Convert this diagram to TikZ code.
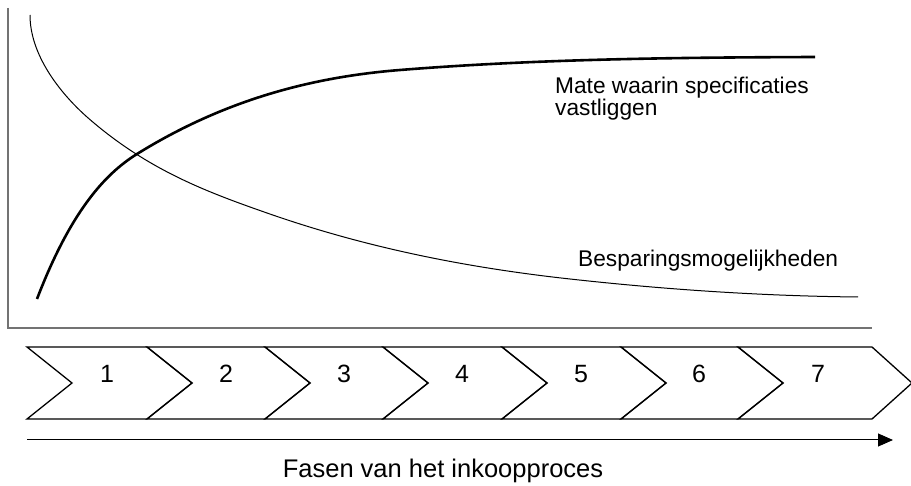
\documentclass[tikz,border=0pt]{standalone}
\usepackage{fontspec}
\setmainfont{Liberation Sans}
\usetikzlibrary{arrows.meta, calc, positioning}

\tikzset{
  axisline/.style={draw=black!55, line width=1.6pt},
  phase/.style={draw=black, line width=1.3pt, line join=miter},
  risecurve/.style={line width=2.6pt},
  fallcurve/.style={line width=1pt},
  label/.style={inner sep=0pt, font=\fontsize{22.7}{19.5}\selectfont},
  phasenum/.style={inner sep=0pt, anchor=base, font=\fontsize{25}{26}\selectfont}
}

\begin{document}
\begin{tikzpicture}[x=1pt, y=-1pt, >={Triangle[length=15pt,width=13pt]}]
\useasboundingbox (0,0) rectangle (911,486);

% assen
\coordinate (top) at (8,8);
\coordinate (origin) at (8,328);
\coordinate (xend) at (872,328);
\draw[axisline] (top) -- (origin) -- (xend);

% curves
\draw[risecurve] (37,299) .. controls (70,213) and (104,174.5) .. (137,154)
  .. controls (224.7,99.6) and (312.3,77) .. (400,70)
  .. controls (538.3,58.9) and (677,57.5) .. (815,57);
\draw[fallcurve] (30,15) .. controls (30,55) and (60,93) .. (87,117)
  .. controls (147,169.8) and (207,192) .. (267,213)
  .. controls (368,248.4) and (469,267.9) .. (570,279)
  .. controls (666,289.6) and (762,296) .. (858,297);

\node[label, anchor=base west, align=left] at (555,116) (spec) {Mate waarin specificaties\\vastliggen};
\node[label, anchor=base west] at (578,267) (bespar) {Besparingsmogelijkheden};

% fasen
\draw[phase] (27,347) -- (147,347) -- (192,383) -- (147,419) -- (27,419) -- (72,383) -- cycle;
\draw[phase] (147,347) -- (265,347) -- (310,383) -- (265,419) -- (147,419) -- (192,383) -- cycle;
\draw[phase] (265,347) -- (383,347) -- (428,383) -- (383,419) -- (265,419) -- (310,383) -- cycle;
\draw[phase] (383,347) -- (502,347) -- (547,383) -- (502,419) -- (383,419) -- (428,383) -- cycle;
\draw[phase] (502,347) -- (621,347) -- (666,383) -- (621,419) -- (502,419) -- (547,383) -- cycle;
\draw[phase] (621,347) -- (738,347) -- (783,383) -- (738,419) -- (621,419) -- (666,383) -- cycle;
\draw[phase] (738,347) -- (872,347) -- (912,383) -- (872,419) -- (738,419) -- (783,383) -- cycle;

\node[phasenum] at (107,383) (f1) {1};
\node[phasenum] at (226,383) (f2) {2};
\node[phasenum] at (344,383) (f3) {3};
\node[phasenum] at (462,383) (f4) {4};
\node[phasenum] at (581,383) (f5) {5};
\node[phasenum] at (699,383) (f6) {6};
\node[phasenum] at (818,383) (f7) {7};

\coordinate (pstart) at (27,440);
\coordinate (pend) at (893,440);
\draw[->, line width=1pt] (pstart) -- (pend);

\node[label, anchor=base, font=\fontsize{25.5}{26}\selectfont] at (443,477) (fasen) {Fasen van het inkoopproces};
\end{tikzpicture}
\end{document}
